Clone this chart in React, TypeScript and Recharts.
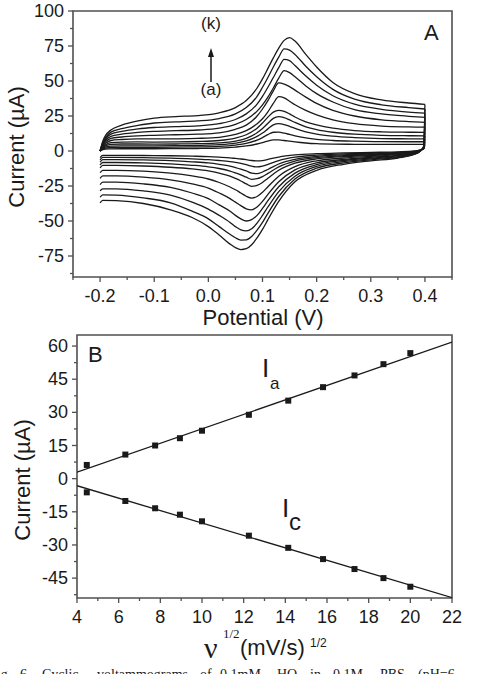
import React from 'react';
import { LineChart, ComposedChart, Line, Scatter, XAxis, YAxis, ReferenceArea } from 'recharts';

// ---- Panel A: cyclic voltammograms, scans (a)..(k) ----
// forward (anodic) sweep potentials, V
const sweepUp = [-0.2, -0.195, -0.19, -0.18, -0.16, -0.13, -0.1, -0.06, -0.02, 0.02, 0.05, 0.07, 0.09, 0.1, 0.11, 0.12, 0.13, 0.14, 0.15, 0.16, 0.18, 0.2, 0.23, 0.27, 0.32, 0.37, 0.4];
// return (cathodic) sweep potentials, listed from -0.2 upward, V
const sweepDown = [-0.2, -0.195, -0.17, -0.12, -0.07, -0.03, 0, 0.02, 0.04, 0.05, 0.06, 0.07, 0.08, 0.09, 0.1, 0.11, 0.13, 0.16, 0.2, 0.25, 0.3, 0.35, 0.38, 0.39, 0.398, 0.4];

// anodic currents, µA
const fwdA = [0, 1, 1.4, 1.5, 1.6, 1.6, 1.6, 1.7, 1.8, 2.1, 2.8, 3.6, 5.0, 6.0, 7.1, 7.9, 7.9, 7.5, 7.0, 6.5, 5.7, 5.2, 4.9, 4.8, 4.7, 4.8, 4.8];
const fwdB = [0, 1.4, 2, 2.5, 2.6, 2.6, 2.6, 2.7, 2.9, 3.3, 4.2, 5.4, 7.8, 9.6, 11.7, 13.4, 13.5, 12.8, 11.8, 10.8, 9.3, 8.3, 7.5, 7, 6.7, 6.6, 6.6];
const fwdC = [0, 1.8, 2.8, 3.5, 3.7, 3.7, 3.7, 3.8, 4, 4.5, 5.6, 7.2, 10.4, 12.8, 15.8, 18.6, 19.5, 18.9, 17.6, 16.1, 13.6, 12, 10.6, 9.6, 8.9, 8.7, 8.6];
const fwdD = [0, 2.3, 3.7, 4.7, 5, 5, 4.9, 5, 5.2, 5.8, 7.1, 9, 13, 16, 19.8, 23.3, 24.5, 23.8, 22.2, 20.4, 17.3, 15.3, 13.4, 12, 11.2, 10.9, 10.8];
const fwdE = [0, 2.8, 4.5, 6, 6.4, 6.5, 6.4, 6.5, 6.8, 7.5, 9.2, 11.6, 16.3, 20, 24.2, 27.8, 29, 28.3, 26.5, 24.3, 20.8, 18.6, 16.3, 14.6, 13.7, 13.4, 13.3];
const fwdF = [0, 3.5, 5.5, 7.5, 8.2, 8.6, 8.6, 8.7, 9, 9.8, 11.8, 14.5, 19.5, 23, 28, 34, 38.8, 38, 35.5, 33, 29, 25.8, 22.3, 19.5, 17.8, 17.2, 17];
const fwdG = [0, 4, 6.5, 9, 10, 10.8, 11.2, 11.6, 12, 13, 15.5, 18.5, 25, 30, 36, 43, 48.6, 47.8, 46, 43.5, 38.5, 34, 29, 25, 22.3, 21, 20.5];
const fwdH = [0, 4.5, 7.5, 10.5, 12, 13.3, 14, 14.5, 15, 16.3, 19, 22.5, 28.5, 33, 38.5, 45, 52, 57.4, 56, 53, 46.5, 41, 35, 29.5, 26.5, 24.8, 24];
const fwdI = [0, 5, 8.5, 12, 14, 15.8, 16.8, 17.4, 18, 19.5, 22.5, 26.5, 33.5, 39, 45.5, 52.5, 59.5, 65.5, 64.5, 61, 53.5, 47, 39.5, 33.5, 29.8, 27.8, 27];
const fwdJ = [0, 6, 9.5, 13.5, 16, 18.3, 20, 20.8, 21.5, 23.2, 26.5, 31, 39, 45.5, 52.5, 60, 67, 73, 72, 69, 60.5, 53, 44, 37, 33, 31, 30];
const fwdK = [0, 7, 11, 15, 18.5, 21.5, 23.5, 24.6, 25.3, 27.3, 31, 36, 45, 51.5, 59, 66.5, 73.5, 79, 81, 78.5, 69, 60, 49, 41, 36.5, 34.3, 33.3];

// cathodic currents, µA (the last point joins the anodic end at 0.4 V)
const revA = [-4.7, -3.1, -3.1, -3.2, -3.4, -3.7, -4, -4.4, -4.9, -5.3, -5.7, -6.2, -6.8, -7.1, -6.8, -6, -4.3, -2.8, -1.9, -1.4, -1, -0.6, 0, 0.6, 1.6, 4.8];
const revB = [-6.3, -4.6, -4.6, -4.8, -5.1, -5.6, -6.2, -6.8, -7.6, -8.2, -8.9, -9.8, -10.8, -11.4, -10.8, -9.6, -6.8, -4.4, -2.9, -2.1, -1.6, -1, -0.3, 0.5, 1.8, 6.6];
const revC = [-8, -6.2, -6.2, -6.4, -6.9, -7.7, -8.5, -9.5, -10.8, -11.8, -12.9, -14.2, -15.8, -16.2, -15, -13.2, -9.3, -6, -3.9, -2.8, -2.1, -1.4, -0.6, 0.4, 2, 8.6];
const revD = [-10, -8.2, -8.2, -8.5, -9.2, -10.2, -11.3, -12.5, -14.3, -15.6, -17, -18.7, -20.2, -19.8, -18.3, -16, -11.3, -7.2, -4.7, -3.4, -2.6, -1.8, -0.8, 0.3, 2.2, 10.8];
const revE = [-12, -10.3, -10.3, -10.7, -11.6, -12.8, -14.2, -15.8, -18, -19.6, -21.4, -23.5, -25.2, -24.5, -22.5, -19.5, -13.8, -8.7, -5.6, -4, -3.1, -2.1, -1, 0.2, 2.4, 13.3];
const revF = [-15.5, -13.8, -13.8, -14.4, -15.8, -17.8, -20, -22.5, -25.7, -27.7, -30, -32.3, -33.6, -32.5, -29.5, -25.5, -18, -11.2, -7, -5, -3.8, -2.6, -1.2, 0, 2.6, 17];
const revG = [-19.5, -17.8, -17.8, -18.7, -20.6, -23.5, -26.5, -30, -34, -36.5, -39, -41.3, -42, -40, -36, -31, -22, -13.5, -8.5, -6, -4.5, -3.1, -1.5, -0.2, 2.8, 20.5];
const revH = [-24, -22.3, -22.3, -23.5, -26, -30, -34, -38.5, -43, -46, -48.5, -50, -49, -46, -41, -35.5, -25.5, -15.8, -9.8, -6.8, -5, -3.5, -1.7, -0.3, 3, 24];
const revI = [-28.5, -27, -27, -28.5, -31.5, -36.5, -41.5, -46, -51, -54, -56.3, -57, -55.5, -51.5, -46, -40, -29, -18, -11, -7.6, -5.6, -4, -2, -0.4, 3.1, 27];
const revJ = [-33, -31.3, -31.5, -33.5, -37, -43, -48.5, -54, -59.5, -62, -63.6, -63.5, -61, -56.5, -51, -44.5, -32.5, -20, -12.3, -8.5, -6.3, -4.5, -2.3, -0.5, 3.3, 30];
const revK = [-37, -35.3, -35.5, -37.5, -42, -47.5, -54, -60, -66.5, -69, -70.4, -69.8, -67, -62, -56, -49, -36, -22, -13.8, -9.5, -7, -5, -2.5, -0.5, 3.5, 33.3];

const fwdScans = [fwdA, fwdB, fwdC, fwdD, fwdE, fwdF, fwdG, fwdH, fwdI, fwdJ, fwdK];
const revScans = [revA, revB, revC, revD, revE, revF, revG, revH, revI, revJ, revK];

const potentialTicks = [-0.25, -0.2, -0.15, -0.1, -0.05, 0, 0.05, 0.1, 0.15, 0.2, 0.25, 0.3, 0.35, 0.4, 0.45];
const potentialLabels = [-0.2, -0.1, 0, 0.1, 0.2, 0.3, 0.4];
const cvCurrentTicks = [-87.5, -75, -62.5, -50, -37.5, -25, -12.5, 0, 12.5, 25, 37.5, 50, 62.5, 75, 87.5, 100];
const cvCurrentLabels = [-75, -50, -25, 0, 25, 50, 75, 100];

// ---- Panel B: peak currents vs square root of scan rate ----
const sqrtRate = [4.47, 6.32, 7.75, 8.94, 10, 12.25, 14.14, 15.81, 17.32, 18.71, 20];
const anodicPeak = [6.2, 10.9, 15.0, 18.3, 21.7, 28.9, 35.3, 41.4, 46.7, 51.8, 56.8];
const cathodicPeak = [-6.2, -10.1, -13.4, -16.3, -19.3, -25.8, -31.3, -36.4, -40.9, -45.0, -48.9];
const fitRange = [4, 22];
const anodicFit = [2.9, 61.8];
const cathodicFit = [-3.2, -53.8];

const rateTicks = [4, 5, 6, 7, 8, 9, 10, 11, 12, 13, 14, 15, 16, 17, 18, 19, 20, 21, 22];
const rateLabels = [4, 6, 8, 10, 12, 14, 16, 18, 20, 22];
const peakTicks = [-52.5, -45, -37.5, -30, -22.5, -15, -7.5, 0, 7.5, 15, 22.5, 30, 37.5, 45, 52.5, 60];
const peakLabels = [-45, -30, -15, 0, 15, 30, 45, 60];

const FRAME = '#505050';
const INK = '#1a1a1a';

const pairs = (xs: number[], ys: number[]) => xs.map((x, k) => ({ x, y: ys[k] }));
const isIn = (list: number[], v: number) => list.some((m) => Math.abs(m - v) < 1e-6);

const leftTick = (labels: number[], fmt: (v: number) => string) => (props: any) => {
  const { x, y, payload } = props;
  const major = isIn(labels, payload.value);
  return (
    <g>
      <line x1={x - (major ? 5 : 3)} x2={x} y1={y} y2={y} stroke={FRAME} strokeWidth={1.3} />
      {major && (
        <text x={x - 9} y={y + 6} textAnchor="end" fontSize={18} fill={INK}>
          {fmt(payload.value)}
        </text>
      )}
    </g>
  );
};

const bottomTick = (labels: number[], fmt: (v: number) => string) => (props: any) => {
  const { x, y, payload } = props;
  const major = isIn(labels, payload.value);
  return (
    <g>
      <line x1={x} x2={x} y1={y} y2={y + (major ? 5 : 3)} stroke={FRAME} strokeWidth={1.3} />
      {major && (
        <text x={x} y={y + 25} textAnchor="middle" fontSize={18} fill={INK}>
          {fmt(payload.value)}
        </text>
      )}
    </g>
  );
};

const squareDot = (p: any) => <rect x={p.cx - 3} y={p.cy - 3} width={6} height={6} fill={INK} />;

const captionWords: [string, number][] = [
  ['Fig.', -11], ['6.', 20], ['Cyclic', 42], ['voltammograms', 97], ['of', 200], ['0.1mM', 220],
  ['HQ', 277], ['in', 310], ['0.1M', 333], ['PBS', 380], ['(pH=6', 418],
];

export default function App() {
  return (
    <div
      style={{
        position: 'absolute', left: 0, top: 0, width: 490, height: 674, overflow: 'hidden',
        background: '#fff', fontFamily: '"Liberation Sans", Arial, sans-serif',
      }}
    >
      <div style={{ position: 'absolute', left: 0, top: 0 }}>
        <LineChart width={490} height={330} margin={{ top: 11, right: 38, bottom: 13, left: 13 }}>
          <XAxis
            dataKey="x" type="number" domain={[-0.25, 0.45]} ticks={potentialTicks} interval={0}
            allowDataOverflow axisLine={false} tickLine={false} tickSize={0} tickMargin={0} height={40}
            tick={bottomTick(potentialLabels, (v) => v.toFixed(1))}
          />
          <YAxis
            type="number" domain={[-90, 100]} ticks={cvCurrentTicks} interval={0}
            allowDataOverflow axisLine={false} tickLine={false} tickSize={0} tickMargin={0} width={60}
            tick={leftTick(cvCurrentLabels, (v) => String(v))}
          />
          <ReferenceArea x1={-0.25} x2={0.45} y1={-90} y2={100} fill="none" stroke={FRAME} strokeWidth={1.6} />
          {fwdScans.map((scan, k) => (
            <Line
              key={'up' + k} data={pairs(sweepUp, scan)} dataKey="y" type="monotone"
              stroke={INK} strokeWidth={1.3} dot={false} isAnimationActive={false}
            />
          ))}
          {revScans.map((scan, k) => (
            <Line
              key={'down' + k} data={pairs(sweepDown, scan)} dataKey="y" type="monotone"
              stroke={INK} strokeWidth={1.3} dot={false} isAnimationActive={false}
            />
          ))}
        </LineChart>
      </div>

      <div style={{ position: 'absolute', left: 0, top: 330 }}>
        <ComposedChart width={490} height={344} margin={{ top: 5, right: 38, bottom: 36, left: 17 }}>
          <XAxis
            dataKey="x" type="number" domain={[4, 22]} ticks={rateTicks} interval={0}
            allowDataOverflow axisLine={false} tickLine={false} tickSize={0} tickMargin={0} height={40}
            tick={bottomTick(rateLabels, (v) => String(v))}
          />
          <YAxis
            dataKey="y" type="number" domain={[-54, 65]} ticks={peakTicks} interval={0}
            allowDataOverflow axisLine={false} tickLine={false} tickSize={0} tickMargin={0} width={60}
            tick={leftTick(peakLabels, (v) => String(v))}
          />
          <ReferenceArea x1={4} x2={22} y1={-54} y2={65} fill="none" stroke={FRAME} strokeWidth={1.6} />
          <Line
            data={pairs(fitRange, anodicFit)} dataKey="y" type="linear"
            stroke={INK} strokeWidth={1.3} dot={false} isAnimationActive={false}
          />
          <Line
            data={pairs(fitRange, cathodicFit)} dataKey="y" type="linear"
            stroke={INK} strokeWidth={1.3} dot={false} isAnimationActive={false}
          />
          <Scatter data={pairs(sqrtRate, anodicPeak)} dataKey="y" shape={squareDot} isAnimationActive={false} />
          <Scatter data={pairs(sqrtRate, cathodicPeak)} dataKey="y" shape={squareDot} isAnimationActive={false} />
        </ComposedChart>
      </div>

      <svg width={490} height={674} style={{ position: 'absolute', left: 0, top: 0, pointerEvents: 'none' }}>
        <g fill={INK}>
          {/* panel A titles and markers */}
          <text x={263} y={325} fontSize={22} textAnchor="middle">Potential (V)</text>
          <text transform="translate(24,147) rotate(-90)" fontSize={22} textAnchor="middle">Current (µA)</text>
          <text x={424} y={40} fontSize={22}>A</text>
          <text x={211} y={29} fontSize={17} textAnchor="middle">(k)</text>
          <text x={211} y={95} fontSize={17} textAnchor="middle">(a)</text>
          <line x1={211} x2={211} y1={82} y2={55} stroke={INK} strokeWidth={1.5} />
          <path d="M211,48 L208,57 L214,57 Z" />

          {/* panel B titles and markers */}
          <text transform="translate(30,480) rotate(-90)" fontSize={22} textAnchor="middle">Current (µA)</text>
          <text x={88} y={362} fontSize={22}>B</text>
          <text x={262} y={377} fontSize={26}>I</text>
          <text x={270} y={389} fontSize={17}>a</text>
          <text x={282} y={517} fontSize={26}>I</text>
          <text x={289} y={530} fontSize={24}>c</text>
          <text x={204} y={658} fontSize={30} fontFamily='"Liberation Serif", serif'>ν</text>
          <text x={223} y={638} fontSize={13} fontFamily='"Liberation Serif", serif'>1/2</text>
          <text x={240} y={655} fontSize={22}>(mV/s)</text>
          <text x={310} y={647} fontSize={12}>1/2</text>

          {/* caption, clipped by the page edge */}
          {captionWords.map(([w, x]) => (
            <text key={w} x={x} y={679} fontSize={14} fontFamily='"Liberation Serif", serif'>{w}</text>
          ))}
        </g>
      </svg>
    </div>
  );
}
